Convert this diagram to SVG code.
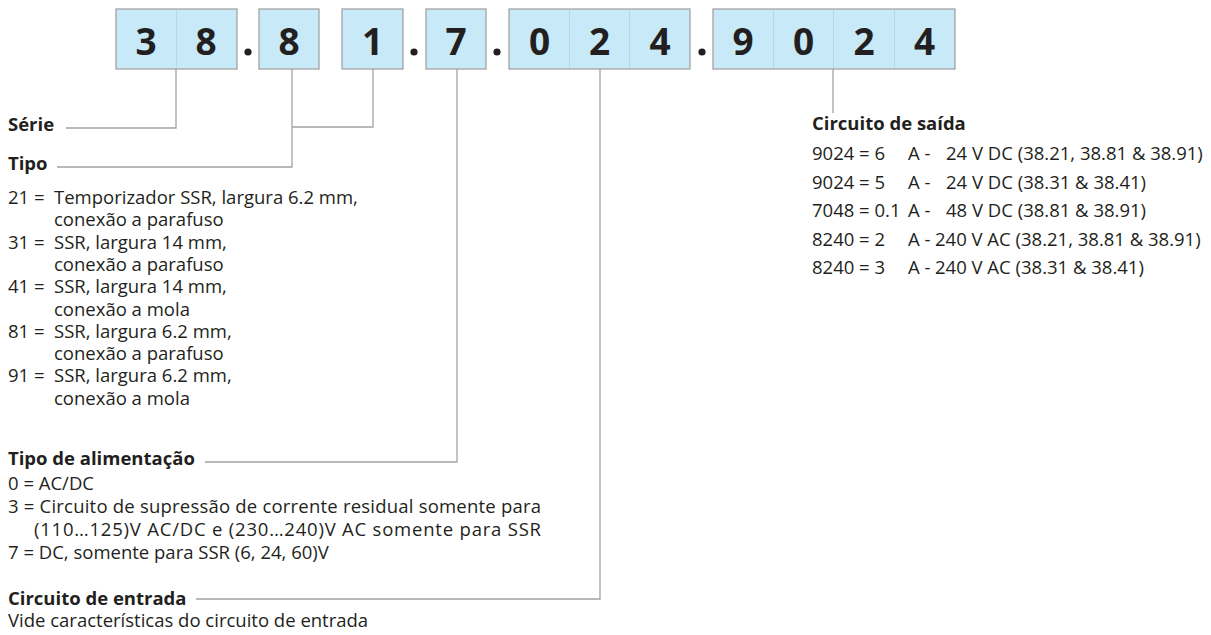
<svg xmlns="http://www.w3.org/2000/svg" width="1211" height="635" viewBox="0 0 1211 635">
<style>
.box{fill:#c8eaf8;stroke:#a3a3a3;stroke-width:1.3}
.div{stroke:#b6d6e4;stroke-width:1}
.dig{font-family:"Open Sans","Liberation Sans",sans-serif;font-weight:bold;font-size:37px;fill:#231f20;text-anchor:middle}
.dot{fill:#231f20}
.conn{fill:none;stroke:#a3a3a3;stroke-width:1.3}
.t{font-family:"Open Sans","Liberation Sans",sans-serif;font-size:18.5px;fill:#231f20}
.h{font-family:"Open Sans","Liberation Sans",sans-serif;font-size:18.5px;font-weight:bold;fill:#231f20}
</style>
<rect width="1211" height="635" fill="#ffffff"/>

<g id="code">
  <g id="box-serie">
    <rect class="box" x="116" y="9" width="121" height="60"/>
    <line class="div" x1="176.5" y1="10" x2="176.5" y2="68"/>
    <text class="dig" x="146" y="55">3</text>
    <text class="dig" x="206" y="55">8</text>
  </g>
  <circle class="dot" cx="248" cy="52" r="3.6"/>
  <g id="box-tipo1">
    <rect class="box" x="259" y="9" width="60" height="60"/>
    <text class="dig" x="289" y="55">8</text>
  </g>
  <g id="box-tipo2">
    <rect class="box" x="342" y="9" width="61" height="60"/>
    <text class="dig" x="372.5" y="55">1</text>
  </g>
  <circle class="dot" cx="414" cy="52" r="3.6"/>
  <g id="box-alim">
    <rect class="box" x="426" y="9" width="60" height="60"/>
    <text class="dig" x="456" y="55">7</text>
  </g>
  <circle class="dot" cx="497" cy="52" r="3.6"/>
  <g id="box-entrada">
    <rect class="box" x="509" y="9" width="181" height="60"/>
    <line class="div" x1="569.5" y1="10" x2="569.5" y2="68"/>
    <line class="div" x1="629.5" y1="10" x2="629.5" y2="68"/>
    <text class="dig" x="539.5" y="55">0</text>
    <text class="dig" x="599.5" y="55">2</text>
    <text class="dig" x="660" y="55">4</text>
  </g>
  <circle class="dot" cx="702" cy="52" r="3.6"/>
  <g id="box-saida">
    <rect class="box" x="713" y="9" width="242" height="60"/>
    <line class="div" x1="773.5" y1="10" x2="773.5" y2="68"/>
    <line class="div" x1="833.5" y1="10" x2="833.5" y2="68"/>
    <line class="div" x1="894.5" y1="10" x2="894.5" y2="68"/>
    <text class="dig" x="743" y="55">9</text>
    <text class="dig" x="803.5" y="55">0</text>
    <text class="dig" x="864" y="55">2</text>
    <text class="dig" x="924.5" y="55">4</text>
  </g>
</g>

<g id="connectors">
  <polyline class="conn" points="176,69 176,128 66,128"/>
  <polyline class="conn" points="292,69 292,167 57,167"/>
  <polyline class="conn" points="373,69 373,127 292,127"/>
  <polyline class="conn" points="457,69 457,462 205,462"/>
  <polyline class="conn" points="600,69 600,599 196,599"/>
  <polyline class="conn" points="833,69 833,113"/>
</g>

<g id="serie">
  <text class="h" x="8" y="131">Série</text>
</g>

<g id="tipo">
  <text class="h" x="8" y="170">Tipo</text>
  <text class="t" x="8" y="204">21 =</text><text class="t" x="54" y="204">Temporizador SSR, largura 6.2 mm,</text>
  <text class="t" x="54" y="226.3">conexão a parafuso</text>
  <text class="t" x="8" y="248.6">31 =</text><text class="t" x="54" y="248.6">SSR, largura 14 mm,</text>
  <text class="t" x="54" y="270.9">conexão a parafuso</text>
  <text class="t" x="8" y="293.2">41 =</text><text class="t" x="54" y="293.2">SSR, largura 14 mm,</text>
  <text class="t" x="54" y="315.5">conexão a mola</text>
  <text class="t" x="8" y="337.8">81 =</text><text class="t" x="54" y="337.8">SSR, largura 6.2 mm,</text>
  <text class="t" x="54" y="360.1">conexão a parafuso</text>
  <text class="t" x="8" y="382.4">91 =</text><text class="t" x="54" y="382.4">SSR, largura 6.2 mm,</text>
  <text class="t" x="54" y="404.7">conexão a mola</text>
</g>

<g id="alimentacao">
  <text class="h" x="8" y="465">Tipo de alimentação</text>
  <text class="t" x="8" y="490">0 = AC/DC</text>
  <text class="t" x="8" y="513" textLength="533" lengthAdjust="spacing">3 = Circuito de supressão de corrente residual somente para</text>
  <text class="t" x="34" y="536" textLength="507" lengthAdjust="spacing">(110…125)V AC/DC e (230…240)V AC somente para SSR</text>
  <text class="t" x="8" y="559">7 = DC, somente para SSR (6, 24, 60)V</text>
</g>

<g id="entrada">
  <text class="h" x="8" y="605">Circuito de entrada</text>
  <text class="t" x="8" y="627">Vide características do circuito de entrada</text>
</g>

<g id="saida">
  <text class="h" x="812" y="130">Circuito de saída</text>
  <text class="t" x="812" y="160">9024 = 6</text><text class="t" x="908" y="160">A -</text><text class="t" x="946" y="160">24 V DC (38.21, 38.81 &amp; 38.91)</text>
  <text class="t" x="812" y="188.5">9024 = 5</text><text class="t" x="908" y="188.5">A -</text><text class="t" x="946" y="188.5">24 V DC (38.31 &amp; 38.41)</text>
  <text class="t" x="812" y="217">7048 = 0.1</text><text class="t" x="908" y="217">A -</text><text class="t" x="946" y="217">48 V DC (38.81 &amp; 38.91)</text>
  <text class="t" x="812" y="245.5">8240 = 2</text><text class="t" x="908" y="245.5">A -</text><text class="t" x="935" y="245.5">240 V AC (38.21, 38.81 &amp; 38.91)</text>
  <text class="t" x="812" y="274">8240 = 3</text><text class="t" x="908" y="274">A -</text><text class="t" x="935" y="274">240 V AC (38.31 &amp; 38.41)</text>
</g>
</svg>
